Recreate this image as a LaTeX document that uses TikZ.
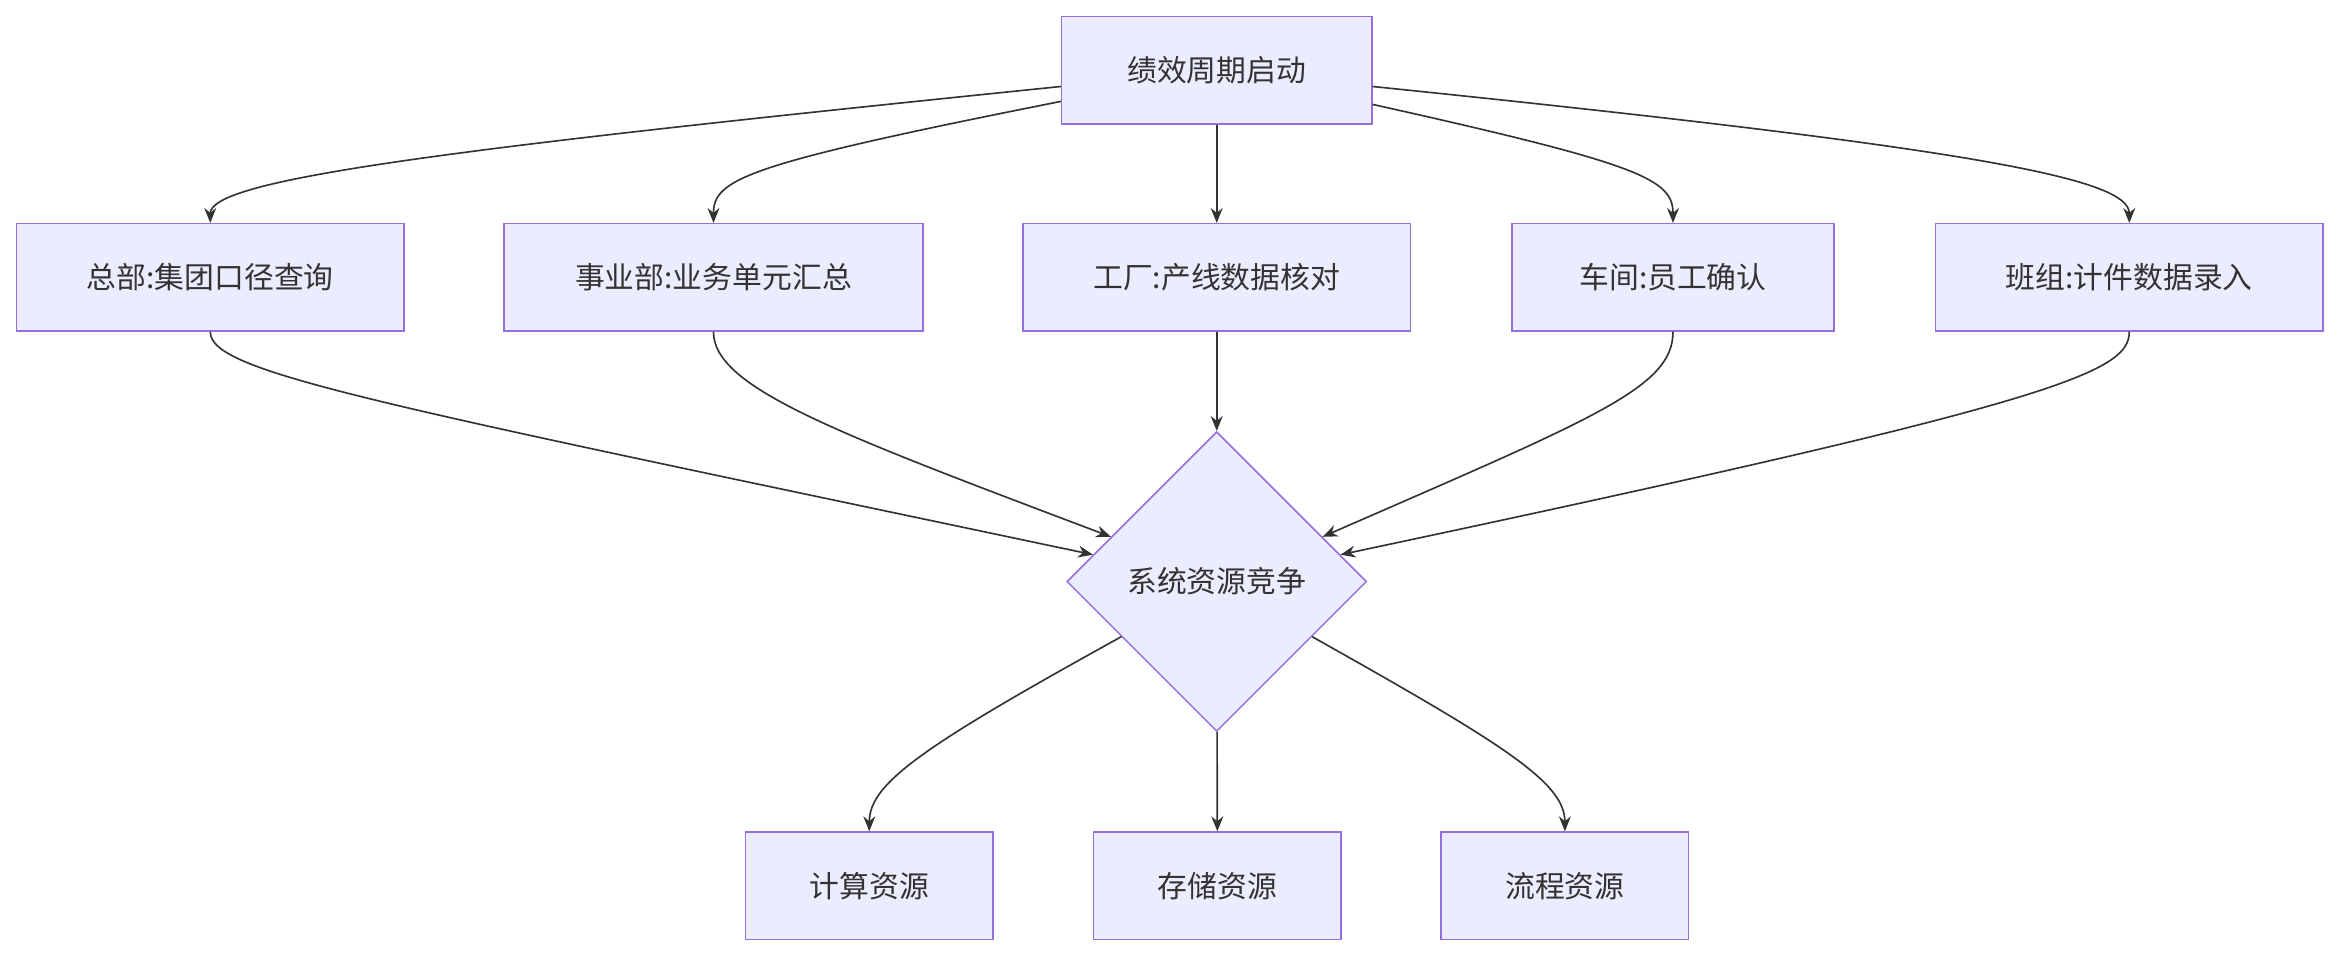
\documentclass[tikz,border=0pt]{standalone}
\usepackage{fontspec}
\setmainfont{Noto Sans CJK SC}
\usetikzlibrary{shapes.geometric,arrows.meta,calc}
\definecolor{nf}{HTML}{ECECFF}
\definecolor{ns}{HTML}{9370DB}
\definecolor{ln}{HTML}{333333}
\begin{document}
\begin{tikzpicture}[x=1pt,y=-1pt,
 box/.style={draw=ns,fill=nf,line width=1pt,minimum height=72pt,inner sep=0pt,font=\fontsize{20}{24}\selectfont,text=ln},
 dia/.style={draw=ns,fill=nf,line width=1pt,diamond,minimum width=201pt,minimum height=201pt,inner sep=0pt,font=\fontsize{20}{24}\selectfont,text=ln},
 e/.style={draw=ln,line width=1.1pt,-{Stealth[length=10pt,width=8pt]}}]
\useasboundingbox (0,0) rectangle (1568,641);
\node[box,minimum width=208pt] (t) at (816,47) {绩效周期启动};
\node[box,minimum width=260pt] (a) at (141,186) {总部:集团口径查询};
\node[box,minimum width=281pt] (b) at (478.5,186) {事业部:业务单元汇总};
\node[box,minimum width=260pt] (c) at (816,186) {工厂:产线数据核对};
\node[box,minimum width=216pt] (d) at (1122,186) {车间:员工确认};
\node[box,minimum width=260pt] (f) at (1428,186) {班组:计件数据录入};
\node[dia] (s) at (816,390) {系统资源竞争};
\node[box,minimum width=166pt] (r1) at (583,594) {计算资源};
\node[box,minimum width=166pt] (r2) at (816.5,594) {存储资源};
\node[box,minimum width=166pt] (r3) at (1049.5,594) {流程资源};
\draw[e] ([yshift=-11pt]t.west) .. controls (300,100) and (141,120) .. (a.north);
\draw[e] ([yshift=-21pt]t.west) .. controls (500,110) and (478.5,120) .. (b.north);
\draw[e] (t) -- (c);
\draw[e] ([yshift=-23pt]t.east) .. controls (1100,110) and (1122,120) .. (d.north);
\draw[e] ([yshift=-11pt]t.east) .. controls (1330,100) and (1428,120) .. (f.north);
\draw[e] (a.south) .. controls (141,250) and (250,270) .. (733,372);
\draw[e] (b.south) .. controls (478.5,260) and (560,290) .. (745,360);
\draw[e] (c) -- (s);
\draw[e] (d.south) .. controls (1122,260) and (1070,280) .. (887,360);
\draw[e] (f.south) .. controls (1428,250) and (1380,270) .. (899,372);
\draw[e] (752,427) .. controls (620,500) and (583,525) .. (r1.north);
\draw[e] (s) -- (r2);
\draw[e] (880,427) .. controls (1010,500) and (1049.5,525) .. (r3.north);
\end{tikzpicture}
\end{document}
